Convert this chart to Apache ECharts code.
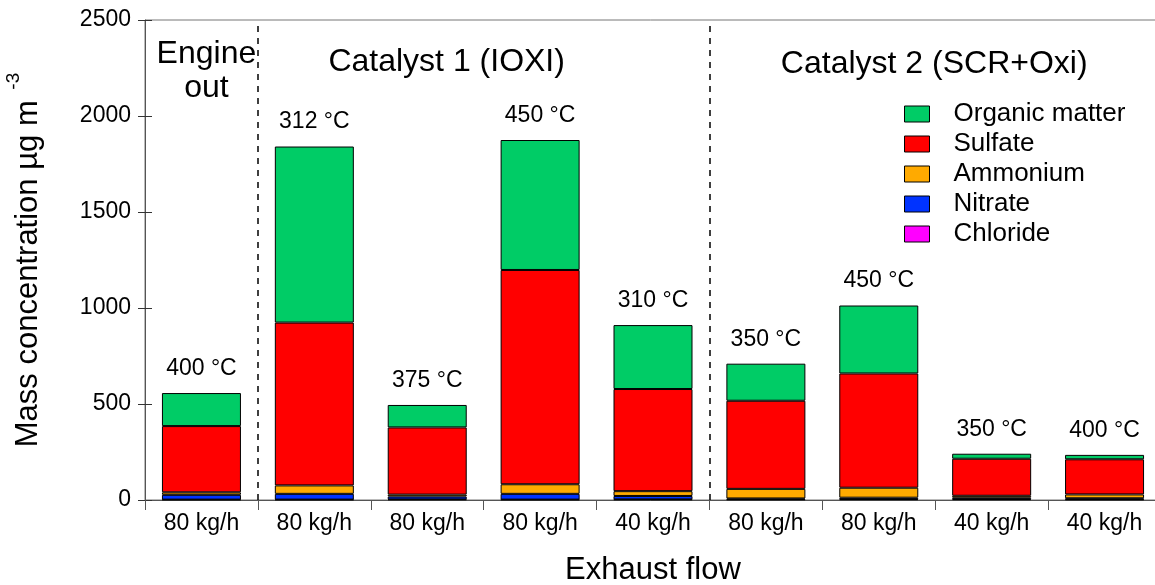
<!DOCTYPE html>
<html>
<head>
<meta charset="utf-8">
<script src="https://cdn.jsdelivr.net/npm/echarts@6/dist/echarts.min.js"></script>
<style>
html,body{margin:0;padding:0;background:#fff;}
#chart{width:1155px;height:585px;}
</style>
</head>
<body>
<div id="chart"></div>
<script>
// ---- data ----
var flows = ['80 kg/h','80 kg/h','80 kg/h','80 kg/h','40 kg/h','80 kg/h','80 kg/h','40 kg/h','40 kg/h'];
var temps = ['400 °C','312 °C','375 °C','450 °C','310 °C','350 °C','450 °C','350 °C','400 °C'];
var chloride = [2, 2, 3, 2, 3, 3, 4, 4, 3];
var nitrate  = [25, 30, 15, 30, 18, 5, 8, 8, 6];
var ammonium = [13, 44, 10, 50, 25, 50, 52, 10, 20];
var sulfate  = [345, 848, 350, 1116, 532, 459, 595, 193, 183];
var organic  = [172, 917, 117, 677, 333, 193, 354, 26, 23];
var groupBoundaries = [1, 5];
var yTicks = [0, 500, 1000, 1500, 2000, 2500];
var groupHeaders = ['Engine\nout', 'Catalyst 1 (IOXI)', 'Catalyst 2 (SCR+Oxi)'];

var FONT = 'Liberation Sans, Arial, Helvetica, sans-serif';
var catIdx = flows.map(function (_, i) { return String(i); });

var chart = echarts.init(document.getElementById('chart'), null, {renderer: 'canvas'});

function barSeries(name, data, color, extra) {
  var s = {
    name: name, type: 'bar', stack: 'total', data: data,
    xAxisIndex: 0, yAxisIndex: 0,
    barWidth: 79,
    itemStyle: {color: color, borderColor: '#000', borderWidth: 1},
    emphasis: {disabled: true},
    animation: false
  };
  if (extra) for (var k in extra) s[k] = extra[k];
  return s;
}

var option = {
  animation: false,
  textStyle: {fontFamily: FONT},
  grid: {left: 145, right: -6, top: 20, bottom: 85, containLabel: false, outerBoundsMode: 'none',
    show: true, borderColor: '#777', borderWidth: 1, backgroundColor: 'transparent'},
  legend: {
    data: ['Organic matter', 'Sulfate', 'Ammonium', 'Nitrate', 'Chloride'],
    orient: 'vertical', left: 899, top: 96,
    itemWidth: 25, itemHeight: 16, itemGap: 4,
    icon: 'rect',
    itemStyle: {borderColor: '#000', borderWidth: 1},
    textStyle: {fontSize: 26, color: '#000', fontFamily: FONT, padding: [0, 0, 0, 19]}
  },
  xAxis: [{
    type: 'category', data: catIdx, position: 'bottom',
    axisLine: {show: true, lineStyle: {color: '#555', width: 1}},
    axisTick: {show: true, length: 10, inside: false, lineStyle: {color: '#555'}},
    axisLabel: {fontSize: 23, color: '#000', margin: 12, fontFamily: FONT,
      formatter: function (v) { return flows[+v]; }},
    name: 'Exhaust flow', nameLocation: 'middle', nameGap: 55,
    nameTextStyle: {fontSize: 31, color: '#000', fontFamily: FONT}
  }, {
    type: 'value', min: 0, max: 9, show: false
  }],
  yAxis: [{
    type: 'value', min: yTicks[0], max: yTicks[yTicks.length - 1], interval: 500,
    axisLine: {show: true, lineStyle: {color: '#555', width: 1}},
    axisTick: {show: true, length: 7, inside: false, lineStyle: {color: '#333'}},
    axisLabel: {fontSize: 23, color: '#000', margin: 14, fontFamily: FONT,
      formatter: function (v) { return String(v); }},
    splitLine: {show: false},
    name: '{a|Mass concentration µg m}{s|  -3}', nameLocation: 'middle', nameGap: 92, nameRotate: 90,
    nameTextStyle: {color: '#000', fontFamily: FONT,
      rich: {a: {fontSize: 31, fontFamily: FONT, color: '#000', lineHeight: 40},
             s: {fontSize: 19, fontFamily: FONT, color: '#000', padding: [0, 0, 30, 0]}}}
  }, {
    type: 'value', min: yTicks[0], max: yTicks[yTicks.length - 1], interval: 500, position: 'left',
    axisLine: {show: false},
    axisTick: {show: true, length: 7, inside: true, lineStyle: {color: '#333'}},
    axisLabel: {show: false}, splitLine: {show: false}
  }],
  series: [
    barSeries('Chloride', chloride, '#FF00FF'),
    barSeries('Nitrate', nitrate, '#0033FF'),
    barSeries('Ammonium', ammonium, '#FFAA00'),
    barSeries('Sulfate', sulfate, '#FF0000'),
    barSeries('Organic matter', organic, '#00CC66', {
      label: {show: true, position: 'top', distance: 13, fontSize: 23, color: '#000', fontFamily: FONT,
        formatter: function (p) { return temps[p.dataIndex]; }}
    }),
    {
      type: 'line', xAxisIndex: 1, yAxisIndex: 0, data: [], silent: true, animation: false,
      markLine: {
        silent: true, symbol: ['none', 'none'], animation: false,
        label: {show: false},
        lineStyle: {color: '#000', type: [6, 6], width: 1.5},
        data: groupBoundaries.map(function (b) { return {xAxis: b}; })
      }
    }
  ]
};
chart.setOption(option);

// group headers placed relative to their category span
function headerPos(startIdx, endIdx) {
  var a = chart.convertToPixel({xAxisIndex: 1}, startIdx);
  var b = chart.convertToPixel({xAxisIndex: 1}, endIdx);
  return (a + b) / 2;
}
var spans = [[0, 1], [1, 5], [5, 9]];
var hShift = [5, -37, -1];
var hy = [71, 62, 64];
chart.setOption({
  graphic: spans.map(function (sp, i) {
    return {
      type: 'text', x: headerPos(sp[0], sp[1]) + hShift[i], y: hy[i],
      style: {text: groupHeaders[i], fontSize: 32, fontFamily: FONT, fill: '#000',
        align: 'center', verticalAlign: 'middle', lineHeight: 34}
    };
  })
});
</script>
</body>
</html>
